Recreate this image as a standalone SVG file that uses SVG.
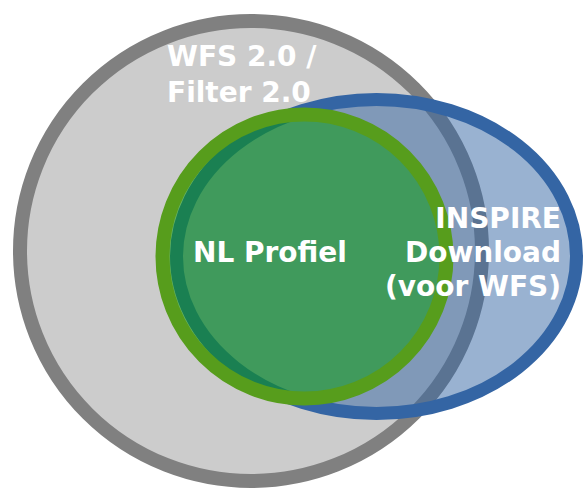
<svg xmlns="http://www.w3.org/2000/svg" width="585" height="488" viewBox="0 0 585 488">
<style>
.lbl{font-family:"DejaVu Sans",Verdana,sans-serif;font-weight:bold;font-size:28px;fill:#ffffff}
</style>
<rect width="585" height="488" fill="#ffffff"/>
<g id="wfs">
<ellipse cx="251" cy="251" rx="231" ry="230" fill="#cccccc" stroke="#808080" stroke-width="14"/>
</g>
<g id="inspire">
<ellipse cx="376.5" cy="256.5" rx="200" ry="157" fill="#3465a4" fill-opacity="0.5" stroke="#3465a4" stroke-width="13"/>
</g>
<g id="nl">
<circle cx="304.5" cy="256.5" r="142" fill="#009b00" fill-opacity="0.5" stroke="#579d1c" stroke-width="14"/>
</g>
<g id="connectors"></g>
<g id="labels">
<text class="lbl" x="167" y="66">WFS 2.0 /</text>
<text class="lbl" x="167" y="102">Filter 2.0</text>
<text class="lbl" x="193" y="262">NL Profiel</text>
<text class="lbl" x="561" y="228" text-anchor="end">INSPIRE</text>
<text class="lbl" x="561" y="262" text-anchor="end">Download</text>
<text class="lbl" x="561" y="296" text-anchor="end">(voor WFS)</text>
</g>
</svg>
